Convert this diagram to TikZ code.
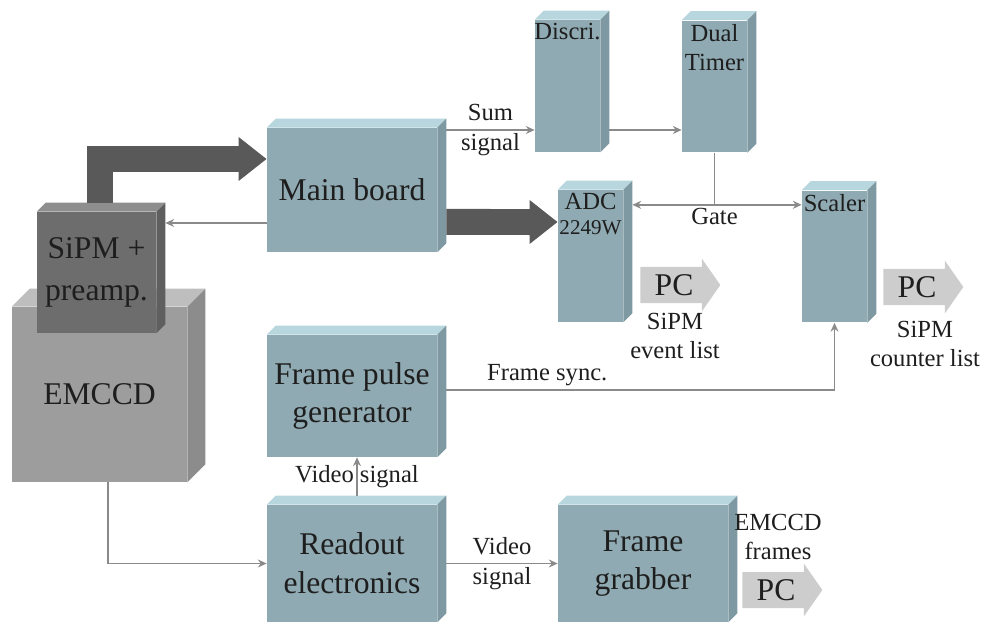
\documentclass[tikz,border=0pt]{standalone}
\usepackage{fontspec}
\setmainfont{Liberation Serif}
\usetikzlibrary{arrows.meta,positioning,shapes.arrows}
\definecolor{bfront}{HTML}{8FAAB2}
\definecolor{btop}{HTML}{B8D6DD}
\definecolor{bside}{HTML}{7E99A1}
\definecolor{sfront}{HTML}{6D6D6D}
\definecolor{stop}{HTML}{8E8E8E}
\definecolor{sside}{HTML}{5F5F5F}
\definecolor{efront}{HTML}{9D9D9D}
\definecolor{etop}{HTML}{BEBEBE}
\definecolor{eside}{HTML}{8C8C8C}
\definecolor{wirecol}{HTML}{8A8A8A}
\definecolor{fatgray}{HTML}{595959}
\definecolor{pcgray}{HTML}{CDCDCD}
\definecolor{ink}{HTML}{1E1E1E}
\newcommand{\bigfont}{\fontsize{18}{22}\selectfont}
\newcommand{\smallfont}{\fontsize{14}{17}\selectfont}
%% top and right faces of a box: node, top colour, side colour, depth
\newcommand{\boxfaces}[4]{%
  \fill[#2] (#1.north west) -- ++(#4,#4) -- ([shift={(#4,#4)}]#1.north east) -- (#1.north east) -- cycle;
  \fill[#3] (#1.north east) -- ++(#4,#4) -- ([shift={(#4,#4)}]#1.south east) -- (#1.south east) -- cycle;
}
\begin{document}
\begin{tikzpicture}[x=0.02cm,y=-0.02cm,
  blk/.style={rectangle, fill=bfront, inner sep=0pt, align=center, font=\bigfont, text=ink},
  wide/.style={blk, minimum width=3.4cm},
  tall/.style={blk, minimum width=1.3cm, minimum height=2.64cm},
  lbl/.style={font=\smallfont, text=ink, align=center, inner sep=2pt},
  wire/.style={draw=wirecol, line width=1.1pt},
  sig/.style={wire, -{Stealth[length=5pt,width=4.5pt]}},
  fat/.style={draw=fatgray, line width=0.52cm, -{Triangle[length=0.56cm,width=0.84cm]}},
  pc/.style={single arrow, fill=pcgray, single arrow head extend=0.17cm, single arrow tip angle=110,
    minimum height=1.6cm, inner xsep=2pt, inner ysep=4pt, font=\bigfont, text=ink}]
\useasboundingbox (0,0) rectangle (981,628);
%% camera head
\node[blk, fill=efront, minimum width=3.5cm, minimum height=3.5cm] (emccd) at (99.5,394.5) {EMCCD};
\boxfaces{emccd}{etop}{eside}{0.36cm}
\node[blk, fill=sfront, minimum width=2.38cm, minimum height=2.42cm, font=\fontsize{18}{24}\selectfont] (sipm) at (96.5,272.5) {SiPM +\\preamp.};
\boxfaces{sipm}{stop}{sside}{0.18cm}
%% boards
\node[wide, minimum height=2.48cm] (main) at (352,190) {Main board};
\node[wide, minimum height=2.44cm] (fpg) at (352,396) {Frame pulse\\generator};
\node[wide, minimum height=2.34cm] (readout) at (352,563.5) {Readout\\electronics};
\node[wide, minimum height=2.34cm] (grabber) at (643,563.5) {Frame\\grabber};
\foreach \b in {main,fpg,readout,grabber} {\boxfaces{\b}{btop}{bside}{0.18cm}}
%% modules
\node[tall, label={[lbl, anchor=north]north:Discri.}] (discri) at (567.5,86) {};
\node[tall, label={[lbl, anchor=north]north:{Dual\\Timer}}] (timer) at (714.5,86.5) {};
\node[tall, label={[lbl, anchor=north]north:{ADC\\[-3pt]{\fontsize{12}{14}\selectfont 2249W}}}] (adc) at (590.5,256) {};
\node[tall, label={[lbl, anchor=north]north:Scaler}] (scaler) at (834.5,256.5) {};
\foreach \b in {discri,timer,adc,scaler} {\boxfaces{\b}{btop}{bside}{0.18cm}}
%% thick data paths
\draw[fat] ([xshift=0.07cm,yshift=0.18cm]sipm.north) |- ([yshift=0.62cm]main.west);
\draw[fat] ([xshift=0.18cm,yshift=-0.64cm]main.east) -- ([yshift=0.68cm]adc.west);
%% signals
\draw[sig] ([yshift=-0.66cm]main.west) -- ([xshift=0.18cm,yshift=-0.66cm]main.west -| sipm.east);
\coordinate (sum) at ([yshift=-0.88cm]discri.west);
\draw[sig] ([xshift=0.18cm]main.east |- sum) -- (sum) node[lbl, midway] {Sum\\signal};
\draw[sig] ([xshift=0.18cm]sum -| discri.east) -- (sum -| timer.west);
\path (timer.south) ++(0,52) coordinate (gate);
\draw[wire] (timer.south) -- (gate);
\draw[sig] (gate) -- ([xshift=0.18cm]gate -| adc.east);
\draw[sig] (gate) -- (gate -| scaler.west);
\node[lbl, below=0pt of gate] (gatelbl) {Gate};
\draw[sig] ([xshift=0.18cm,yshift=0.12cm]fpg.east) -| node[lbl, above, pos=0.13] {Frame sync.} (scaler.south);
\draw[sig] ([xshift=0.1cm,yshift=0.18cm]readout.north) -- ([xshift=0.1cm]fpg.south) node[lbl, midway] {Video signal};
\draw[sig] ([xshift=0.17cm]emccd.south) |- (readout.west);
\draw[sig] ([xshift=0.18cm]readout.east) -- (grabber.west) node[lbl, midway] {Video\\signal};
%% to the PC
\node[pc, anchor=west] (pcadc) at (640,285) {PC};
\node[pc, anchor=west] (pcscl) at (883,287) {PC};
\node[pc, anchor=west] (pcgrab) at (742,590) {PC};
\node[lbl] (evlist) at (675,336) {SiPM\\event list};
\node[lbl] (cntlist) at (925,344) {SiPM\\counter list};
\node[lbl] (frames) at (778,537) {EMCCD\\frames};
\end{tikzpicture}
\end{document}
